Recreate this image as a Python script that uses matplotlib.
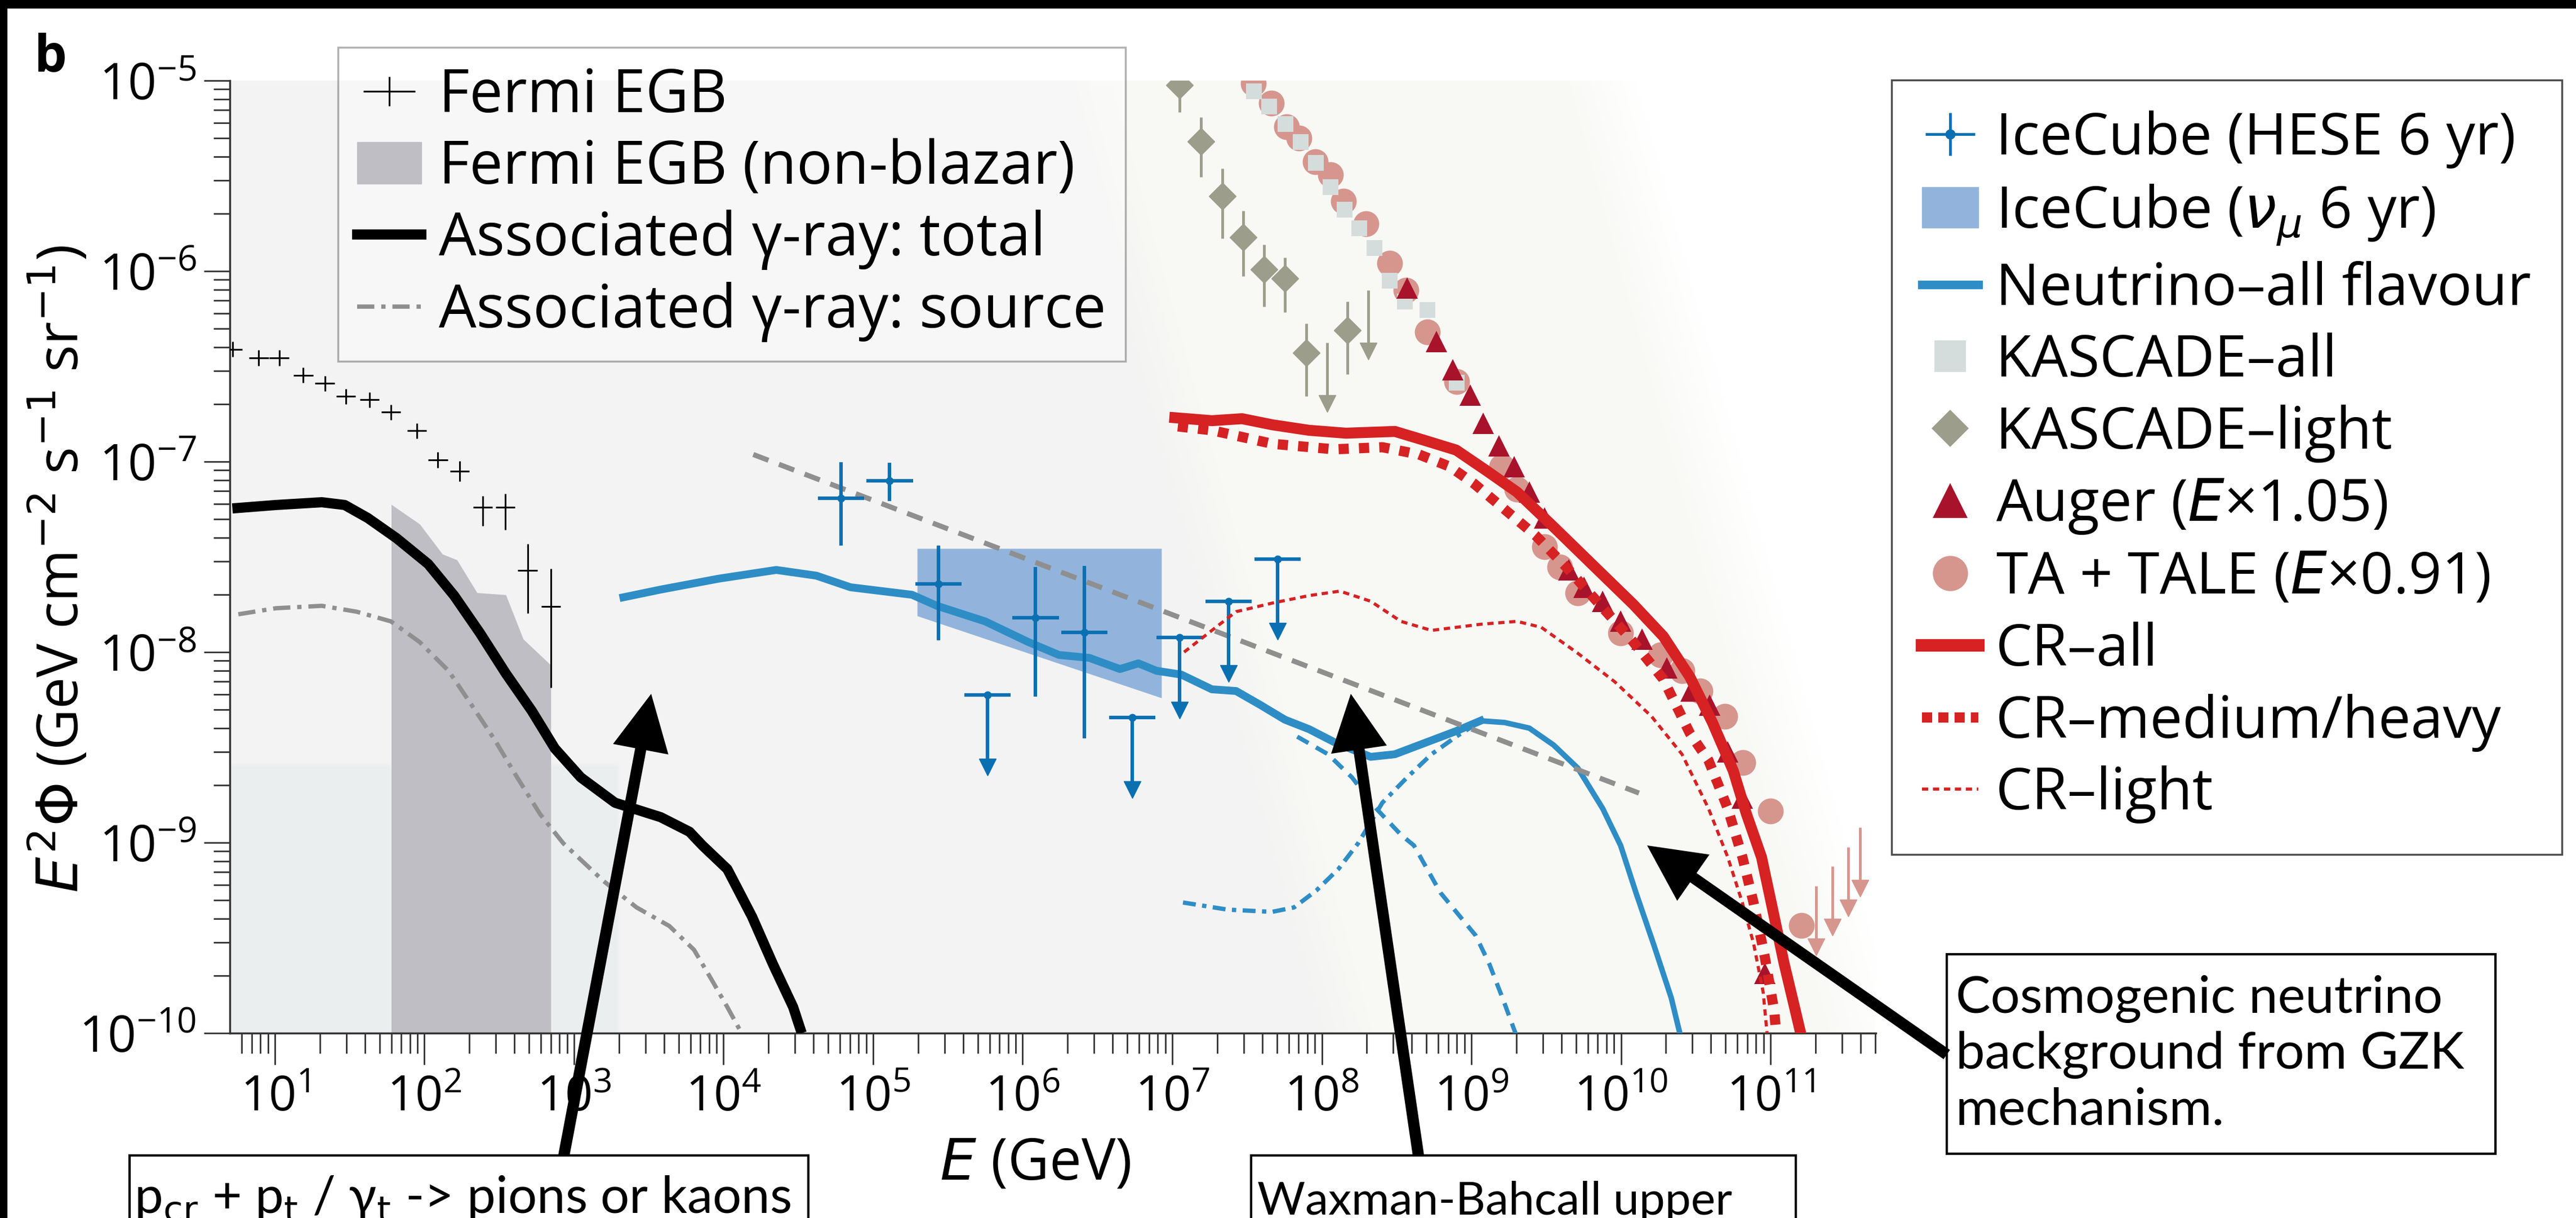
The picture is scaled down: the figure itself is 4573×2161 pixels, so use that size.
import numpy as np
import matplotlib.pyplot as plt
from matplotlib.lines import Line2D
from matplotlib.patches import Patch, Rectangle, FancyArrow
from matplotlib.legend_handler import HandlerTuple
from matplotlib.ticker import FixedLocator, NullFormatter

plt.rcParams['font.family'] = ['Open Sans', 'DejaVu Sans']
plt.rcParams['mathtext.fontset'] = 'dejavusans'

W, H, DPI = 4573, 2161, 100

# ---- Fermi EGB (GeV, GeV cm^-2 s^-1 sr^-1)
fermi_e = [5.2, 7.8, 10.7, 15.5, 21.6, 29.9, 43, 59.7, 89, 123, 172, 245, 347, 490, 700]
fermi_f = [3.89e-7, 3.50e-7, 3.50e-7, 2.84e-7, 2.57e-7, 2.20e-7, 2.11e-7, 1.82e-7,
           1.45e-7, 1.02e-7, 8.9e-8, 5.75e-8, 5.75e-8, 2.69e-8, 1.74e-8]
fermi_lo = [3.55e-7, 3.19e-7, 3.19e-7, 2.59e-7, 2.34e-7, 2.01e-7, 1.92e-7, 1.66e-7,
            1.32e-7, 9.3e-8, 7.9e-8, 4.6e-8, 4.4e-8, 1.6e-8, 6.5e-9]
fermi_hi = [4.26e-7, 3.84e-7, 3.84e-7, 3.11e-7, 2.82e-7, 2.41e-7, 2.31e-7, 1.99e-7,
            1.59e-7, 1.12e-7, 1.01e-7, 6.6e-8, 6.8e-8, 3.7e-8, 2.74e-8]

# Fermi EGB non-blazar band (upper edge)
nb_e = [60, 93, 132, 165, 225, 350, 458, 700]
nb_f = [5.96e-8, 4.70e-8, 3.27e-8, 3.05e-8, 2.05e-8, 2.00e-8, 1.17e-8, 8.55e-9]

# associated gamma rays
gtot_e = [5.2, 10.2, 20.6, 29.3, 41.8, 65.2, 106, 158, 235, 350, 522, 745, 1110,
          1880, 3800, 5920, 7230, 10600, 15500, 21400, 29200, 33300]
gtot_f = [5.68e-8, 5.92e-8, 6.12e-8, 5.92e-8, 5.06e-8, 3.96e-8, 2.90e-8, 1.98e-8,
          1.26e-8, 7.73e-9, 4.92e-9, 3.12e-9, 2.20e-9, 1.62e-9, 1.36e-9, 1.14e-9,
          9.66e-10, 7.26e-10, 4.09e-10, 2.30e-10, 1.37e-10, 1.0e-10]
gsrc_e = [5.7, 10.2, 20.6, 35.2, 59.7, 92.9, 145, 207, 294, 417, 594, 847, 1570,
          2620, 4340, 6340, 8220, 10600, 13200]
gsrc_f = [1.58e-8, 1.70e-8, 1.75e-8, 1.63e-8, 1.45e-8, 1.13e-8, 7.98e-9, 5.27e-9,
          3.48e-9, 2.20e-9, 1.41e-9, 9.93e-10, 6.30e-10, 4.57e-10, 3.65e-10,
          2.74e-10, 1.94e-10, 1.37e-10, 1.0e-10]

# neutrinos, all flavour
nu_e = [2.14e3, 3.80e3, 9.29e3, 2.25e4, 4.17e4, 7.06e4, 1.04e5, 1.82e5, 2.67e5, 5.61e5,
        1.09e6, 1.75e6, 2.79e6, 4.47e6, 5.94e6, 7.85e6, 1.15e7, 1.84e7, 2.67e7, 3.90e7,
        5.66e7, 8.22e7, 1.21e8, 2.12e8, 3.08e8, 4.47e8, 7.91e8, 1.15e9, 1.67e9, 2.44e9,
        3.55e9, 5.15e9, 7.55e9, 9.95e9, 1.26e10, 1.66e10, 2.17e10, 2.49e10]
nu_f = [1.94e-8, 2.13e-8, 2.43e-8, 2.70e-8, 2.52e-8, 2.19e-8, 2.11e-8, 2.00e-8, 1.75e-8,
        1.45e-8, 1.13e-8, 9.66e-9, 9.33e-9, 8.15e-9, 8.73e-9, 7.98e-9, 7.62e-9, 6.38e-9,
        6.25e-9, 5.27e-9, 4.42e-9, 3.94e-9, 3.37e-9, 2.82e-9, 2.91e-9, 3.25e-9, 3.85e-9,
        4.36e-9, 4.27e-9, 3.99e-9, 3.25e-9, 2.46e-9, 1.51e-9, 9.66e-10, 5.46e-10,
        2.90e-10, 1.53e-10, 9.8e-11]
nu_dash_e = [6.85e7, 1.10e8, 1.59e8, 2.31e8, 3.38e8, 4.13e8, 6.21e8, 1.07e9, 1.32e9,
             1.63e9, 1.99e9]
nu_dash_f = [3.60e-9, 2.91e-9, 2.20e-9, 1.51e-9, 1.10e-9, 9.66e-10, 5.46e-10, 3.25e-10,
             2.30e-10, 1.50e-10, 9.8e-11]
nu_dd_e = [1.18e7, 2.34e7, 4.65e7, 6.52e7, 9.20e7, 1.29e8, 1.75e8, 2.54e8, 3.72e8,
           5.41e8, 7.91e8, 1.04e9]
nu_dd_f = [4.85e-10, 4.45e-10, 4.33e-10, 4.57e-10, 5.61e-10, 7.26e-10, 9.93e-10,
           1.62e-9, 2.20e-9, 2.91e-9, 3.60e-9, 4.12e-9]

# IceCube
numu_e = [1.97e5, 8.47e6]
numu_lo = [1.55e-8, 5.75e-9]
numu_hi = [3.50e-8, 3.50e-8]
hese_e = [6.10e4, 1.29e5, 2.74e5, 1.22e6, 2.58e6]
hese_f = [6.43e-8, 7.93e-8, 2.28e-8, 1.52e-8, 1.27e-8]
hese_lo = [3.62e-8, 6.21e-8, 1.15e-8, 5.83e-9, 3.52e-9]
hese_hi = [9.93e-8, 9.86e-8, 3.62e-8, 2.80e-8, 2.84e-8]
hese_ul_e = [5.82e5, 5.41e6, 1.12e7, 2.38e7, 5.06e7]
hese_ul_f = [5.96e-9, 4.54e-9, 1.19e-8, 1.85e-8, 3.08e-8]

# Waxman-Bahcall bound
wb_e = [1.58e4, 1.32e10]
wb_f = [1.09e-7, 1.82e-9]

# cosmic rays, model
cr_e = [1.04e7, 1.84e7, 2.93e7, 4.68e7, 8.22e7, 1.45e8, 3.08e8, 4.91e8, 7.91e8, 1.26e9,
        2.02e9, 3.55e9, 6.24e9, 1.21e10, 1.92e10, 2.89e10, 4.09e10, 5.64e10, 6.89e10,
        8.71e10, 1.04e11, 1.23e11, 1.47e11, 1.60e11]
cr_f = [1.70e-7, 1.64e-7, 1.68e-7, 1.56e-7, 1.46e-7, 1.41e-7, 1.44e-7, 1.29e-7, 1.15e-7,
        8.97e-8, 6.92e-8, 4.54e-8, 2.95e-8, 1.78e-8, 1.21e-8, 7.41e-9, 4.27e-9, 2.38e-9,
        1.42e-9, 8.38e-10, 4.36e-10, 2.34e-10, 1.30e-10, 9.8e-11]
crh_e = [1.09e7, 1.84e7, 4.68e7, 1.21e8, 2.54e8, 4.47e8, 7.19e8, 1.04e9, 1.67e9, 2.69e9,
         4.30e9, 7.55e9, 1.21e10, 1.92e10, 2.89e10, 3.85e10, 5.18e10, 6.49e10, 7.71e10,
         9.16e10, 1.06e11, 1.09e11]
crh_f = [1.53e-7, 1.46e-7, 1.24e-7, 1.16e-7, 1.19e-7, 1.09e-7, 9.40e-8, 7.67e-8, 5.61e-8,
         4.09e-8, 2.80e-8, 1.71e-8, 1.13e-8, 7.21e-9, 3.75e-9, 2.70e-9, 1.51e-9, 8.38e-10,
         4.82e-10, 2.51e-10, 1.30e-10, 1.0e-10]
crl_e = [1.20e7, 1.84e7, 2.67e7, 4.68e7, 8.22e7, 1.32e8, 2.12e8, 3.38e8, 5.41e8, 1.15e9,
         2.02e9, 2.93e9, 5.15e9, 9.12e9, 1.60e10, 2.56e10, 3.85e10, 5.18e10, 6.49e10,
         7.71e10, 8.93e10, 9.48e10]
crl_f = [1.0e-8, 1.30e-8, 1.63e-8, 1.81e-8, 1.98e-8, 2.09e-8, 1.85e-8, 1.45e-8, 1.30e-8,
         1.40e-8, 1.45e-8, 1.35e-8, 9.86e-9, 6.97e-9, 4.60e-9, 2.91e-9, 1.51e-9, 8.38e-10,
         4.82e-10, 2.95e-10, 1.64e-10, 1.0e-10]

# cosmic rays, measured
kl_e = [1.12e7, 1.56e7, 2.16e7, 2.99e7, 4.11e7, 5.66e7, 7.87e7, 1.48e8]
kl_f = [9.5e-6, 4.79e-6, 2.47e-6, 1.51e-6, 1.02e-6, 9.16e-7, 3.72e-7, 4.89e-7]
kl_lo = [6.82e-6, 3.12e-6, 1.48e-6, 9.40e-7, 6.52e-7, 6.08e-7, 2.20e-7, 2.88e-7]
kl_hi = [1.26e-5, 6.43e-6, 3.45e-6, 2.07e-6, 1.38e-6, 1.18e-6, 5.31e-7, 6.92e-7]
kl_ul_e = [1.09e8, 2.05e8]
kl_ul_f = [4.21e-7, 7.93e-7]
ka_e = [3.52e7, 4.45e7, 5.71e7, 7.23e7, 9.12e7, 1.14e8, 1.42e8, 1.78e8, 2.25e8, 2.84e8,
        3.60e8, 5.08e8, 7.98e8]
ka_f = [8.79e-6, 7.31e-6, 5.92e-6, 4.76e-6, 3.70e-6, 2.76e-6, 2.10e-6, 1.68e-6, 1.32e-6,
        8.91e-7, 6.92e-7, 6.25e-7, 2.59e-7]
ta_e = [3.48e7, 4.60e7, 5.82e7, 7.05e7, 9.06e7, 1.14e8, 1.40e8, 1.98e8, 2.84e8, 3.66e8,
        5.08e8, 7.98e8, 1.60e9, 2.02e9, 3.09e9, 3.90e9, 5.15e9, 9.95e9, 1.85e10, 2.56e10,
        3.38e10, 4.95e10, 6.53e10, 1.0e11, 1.61e11]
ta_f = [9.66e-6, 7.62e-6, 5.71e-6, 4.99e-6, 3.75e-6, 3.21e-6, 2.33e-6, 1.77e-6, 1.10e-6,
        7.93e-7, 4.79e-7, 2.63e-7, 9.40e-8, 7.16e-8, 3.57e-8, 2.80e-8, 2.05e-8, 1.26e-8,
        9.66e-9, 7.98e-9, 6.25e-9, 4.60e-9, 2.63e-9, 1.46e-9, 3.67e-10]
ta_ul_e = [2.02e11, 2.59e11, 3.31e11, 3.98e11]
ta_ul_f = [5.92e-10, 7.52e-10, 9.46e-10, 1.20e-9]
au_e = [3.72e8, 5.85e8, 7.52e8, 9.82e8, 1.20e9, 1.53e9, 1.93e9, 2.44e9, 3.09e9, 4.49e9,
        5.66e9, 7.55e9, 9.95e9, 1.38e10, 2.03e10, 2.94e10, 3.92e10, 5.18e10, 6.49e10,
        9.16e10]
au_f = [8.15e-7, 4.27e-7, 3.03e-7, 2.23e-7, 1.59e-7, 1.21e-7, 9.40e-8, 6.92e-8, 5.06e-8,
        2.70e-8, 2.19e-8, 1.85e-8, 1.45e-8, 1.17e-8, 8.26e-9, 6.25e-9, 5.27e-9, 2.99e-9,
        1.71e-9, 2.06e-10]

# axis decades
x_decades = [10.0**k for k in range(1, 12)]
y_decades = [10.0**k for k in range(-10, -4)]

# colours
c_blue_pt = '#0b70b2'
c_blue = '#2f8dc6'
c_band = '#92b4dc'
c_red = '#d62222'
c_auger = '#a8132b'
c_ta = '#d6968e'
c_ka = '#d5dcdc'
c_kl = '#9c9d8a'
c_gray = '#8f8f8f'


def px(x, y):
    return x / DPI, (H - y) / DPI


fig = plt.figure(figsize=(W / DPI, H / DPI), dpi=DPI)
rect = [408 / W, 1 - 1833 / H, (3330 - 408) / W, (1833 - 143) / H]

# soft background tint behind the data
bg = fig.add_axes(rect, zorder=0)
bg.axis('off')
gx = np.linspace(0.699, 11.704, 440)
gy = np.linspace(-10, -5, 220)
X, Y = np.meshgrid(gx, gy)
s = X + 0.35 * (Y + 5)
t1 = np.clip((s - 6.2) / 0.4, 0, 1)[..., None]
t2 = np.clip((s - 9.6) / 0.5, 0, 1)[..., None]
grey = np.array([0.953, 0.953, 0.953])
pale = np.array([0.973, 0.973, 0.962])
rgb = grey * (1 - t1) + pale * t1
rgb = rgb * (1 - t2) + 1.0 * t2
tint = ((X < 3.3) & (Y < -8.6))[..., None]
rgb = np.where(tint, np.array([0.925, 0.937, 0.937]), rgb)
bg.imshow(rgb, extent=[0, 1, 0, 1], origin='lower', aspect='auto', interpolation='bilinear')
bg.set_xlim(0, 1)
bg.set_ylim(0, 1)

ax = fig.add_axes(rect, zorder=1)
ax.patch.set_alpha(0)
ax.set_xscale('log')
ax.set_yscale('log')

# Fermi
ax.fill_between(nb_e, 1e-10, nb_f, color='#bfbec4', lw=0, zorder=2)
fe = np.array(fermi_e)
ff = np.array(fermi_f)
ax.errorbar(fe, ff, xerr=[fe - fe / 10**0.065, fe * 10**0.065 - fe],
            yerr=[ff - np.array(fermi_lo), np.array(fermi_hi) - ff],
            fmt='none', ecolor='k', elinewidth=2.2, zorder=5)
ax.plot(gsrc_e, gsrc_f, color=c_gray, lw=5.5, dashes=(4, 1.6, 1, 1.6), zorder=3)
ax.plot(gtot_e, gtot_f, color='k', lw=13, solid_capstyle='butt', zorder=4)

# neutrinos
ax.fill_between(numu_e, numu_lo, numu_hi, color=c_band, lw=0, zorder=2)
ax.plot(nu_dash_e, nu_dash_f, color=c_blue, lw=5.5, dashes=(3, 2), zorder=3)
ax.plot(nu_dd_e, nu_dd_f, color=c_blue, lw=5.5, dashes=(3, 1.5, 1, 1.5), zorder=3)
ax.plot(nu_e[:28], nu_f[:28], color=c_blue, lw=10, zorder=4)
ax.plot(nu_e[27:], nu_f[27:], color=c_blue, lw=7, zorder=4)
ax.plot(wb_e, wb_f, color=c_gray, lw=6.5, dashes=(3.2, 2.2), zorder=4)

he = np.array(hese_e)
hf = np.array(hese_f)
ax.errorbar(he, hf, xerr=[he - he / 10**0.155, he * 10**0.155 - he],
            yerr=[hf - np.array(hese_lo), np.array(hese_hi) - hf],
            fmt='o', ms=9, color=c_blue_pt, elinewidth=4.5, zorder=6)
ue = np.array(hese_ul_e)
uf = np.array(hese_ul_f)
ax.errorbar(ue, uf, xerr=[ue - ue / 10**0.155, ue * 10**0.155 - ue],
            fmt='o', ms=9, color=c_blue_pt, elinewidth=4.5, zorder=6)
ax.vlines(ue, uf / 10**0.36, uf, color=c_blue_pt, lw=4.5, zorder=6)
ax.plot(ue, uf / 10**0.38, 'v', ms=22, color=c_blue_pt, zorder=6)

# cosmic-ray data
ax.errorbar(kl_e, kl_f, yerr=[np.array(kl_f) - kl_lo, np.array(kl_hi) - kl_f],
            fmt='D', ms=24, color=c_kl, elinewidth=3.5, zorder=5)
ax.vlines(kl_ul_e, np.array(kl_ul_f) / 10**0.3, kl_ul_f, color=c_kl, lw=3.5, zorder=5)
ax.plot(kl_ul_e, np.array(kl_ul_f) / 10**0.32, 'v', ms=22, color=c_kl, zorder=5)
ax.plot(ta_e, ta_f, 'o', ms=33, color=c_ta, mew=0, zorder=5)
ax.vlines(ta_ul_e, np.array(ta_ul_f) / 10**0.3, ta_ul_f, color=c_ta, lw=3.5, zorder=5)
ax.plot(ta_ul_e, np.array(ta_ul_f) / 10**0.32, 'v', ms=22, color=c_ta, zorder=5)
ax.plot(ka_e, ka_f, 's', ms=20, color=c_ka, mew=0, zorder=6)
ax.plot(au_e, au_f, '^', ms=27, color=c_auger, mew=0, zorder=6)

# cosmic-ray model
ax.plot(crl_e, crl_f, color=c_red, lw=4, dashes=(2, 1.5), zorder=7)
ax.plot(crh_e, crh_f, color=c_red, lw=13, dashes=(1, 1), zorder=7)
ax.plot(cr_e, cr_f, color=c_red, lw=14, zorder=7)

ax.set_xlim(10**0.699, 10**11.704)
ax.set_ylim(1e-10, 1e-5)
for sp in ['top', 'right']:
    ax.spines[sp].set_visible(False)
for sp in ['left', 'bottom']:
    ax.spines[sp].set_linewidth(2.5)
    ax.spines[sp].set_color('#333333')

# only decades inside the view get ticks and labels
xminor = [m * d for d in [1.0] + x_decades for m in range(2, 10)
          if 10**0.699 <= m * d <= 10**11.704]
yminor = [m * d for d in y_decades[:-1] for m in range(2, 10)]
ax.xaxis.set_major_locator(FixedLocator(x_decades))
ax.xaxis.set_minor_locator(FixedLocator(xminor))
ax.yaxis.set_major_locator(FixedLocator(y_decades))
ax.yaxis.set_minor_locator(FixedLocator(yminor))
ax.xaxis.set_minor_formatter(NullFormatter())
ax.yaxis.set_minor_formatter(NullFormatter())
ax.tick_params(axis='x', which='major', length=40, width=2, pad=12, labelsize=62, color='#333333')
ax.tick_params(axis='x', which='minor', length=26, width=2, color='#333333')
ax.tick_params(axis='y', which='major', length=33, width=2, pad=10, labelsize=64, color='#333333')
ax.tick_params(axis='y', which='minor', length=21, width=2, color='#333333')

xlab = ax.set_xlabel('$E$ (GeV)', fontsize=64, va='center')
ax.xaxis.set_label_coords((1838 - 408) / 2922, -0.138)
ylab = ax.set_ylabel(r'$E^2\Phi$ (GeV cm$^{-2}$ s$^{-1}$ sr$^{-1}$)', fontsize=60,
                     va='center')
ax.yaxis.set_label_coords(-0.103, (1833 - 1010) / 1690)

# legends
hmap = {tuple: HandlerTuple(ndivide=1, pad=0)}
leg_kw = dict(handletextpad=0.3, borderaxespad=0, fancybox=False, loc='upper left',
              bbox_transform=fig.transFigure, handler_map=hmap)
h_fermi = (Line2D([], [], color='k', marker='_', ms=66, mew=2.2, ls='none'),
           Line2D([], [], color='k', marker='|', ms=37, mew=2.2, ls='none'))
h_left = [h_fermi, Patch(color='#bfbec4'), Line2D([], [], color='k', lw=13),
          Line2D([], [], color=c_gray, lw=5.5, dashes=(4, 1.6, 1, 1.6))]
l_left = ['Fermi EGB', 'Fermi EGB (non-blazar)', 'Associated γ-ray: total',
          'Associated γ-ray: source']
leg1 = ax.legend(h_left, l_left, bbox_to_anchor=(600 / W, 1 - 84 / H), borderpad=0.32,
                 fontsize=76, handlelength=1.08, labelspacing=0.2, **leg_kw)
leg1.get_frame().set_edgecolor('#222222')
leg1.get_frame().set_linewidth(2.5)
leg1.get_frame().set_facecolor('white')
leg1.get_frame().set_alpha(0.35)
ax.add_artist(leg1)

h_hese = (Line2D([], [], color=c_blue_pt, marker='_', ms=63, mew=3.5, ls='none'),
          Line2D([], [], color=c_blue_pt, marker='|', ms=55, mew=3.5, ls='none'),
          Line2D([], [], color=c_blue_pt, marker='o', ms=12, ls='none'))
h_right = [h_hese, Patch(color=c_band), Line2D([], [], color=c_blue, lw=11),
           Line2D([], [], color=c_ka, marker='s', ms=40, ls='none', mew=0),
           Line2D([], [], color=c_kl, marker='D', ms=34, ls='none', mew=0),
           Line2D([], [], color=c_auger, marker='^', ms=45, ls='none', mew=0),
           Line2D([], [], color=c_ta, marker='o', ms=45, ls='none', mew=0),
           Line2D([], [], color=c_red, lw=16),
           Line2D([], [], color=c_red, lw=13, dashes=(1, 0.6)),
           Line2D([], [], color=c_red, lw=4, dashes=(2, 1.5))]
l_right = ['IceCube (HESE 6 yr)', r'IceCube ($\nu_\mu$ 6 yr)', 'Neutrino–all flavour',
           'KASCADE–all', 'KASCADE–light', 'Auger ($E$×1.05)', 'TA + TALE ($E$×0.91)',
           'CR–all', 'CR–medium/heavy', 'CR–light']
leg2 = ax.legend(h_right, l_right, bbox_to_anchor=(3358 / W, 1 - 142 / H), borderpad=0.53,
                 fontsize=74, handlelength=0.97, labelspacing=0.24, **leg_kw)
leg2.get_frame().set_edgecolor('#222222')
leg2.get_frame().set_linewidth(2.5)
leg2.get_frame().set_facecolor('white')

# panel letter
fig.text(61 / W, 1 - 128 / H, 'b', fontsize=66, weight='bold', va='baseline')

# annotation boxes and arrows
box_font = dict(fontsize=63, family=['Lato', 'DejaVu Sans'], color='black')
for x0, y0, x1, y1 in [(230, 2050, 1435, 2300), (2221, 2050, 3188, 2300),
                       (3456, 1693, 4430, 2047)]:
    xa, ya = px(x0, y1)
    fig.add_artist(Rectangle((xa, ya), (x1 - x0) / DPI, (y1 - y0) / DPI,
                             transform=fig.dpi_scale_trans, fill=False, lw=3,
                             ec='k', zorder=10))
notes = [
    (238, 2152, r'p$_{\rm cr}$ + p$_{\rm t}$ / γ$_{\rm t}$ -> pions or kaons', 1166),
    (2232, 2155, 'Waxman-Bahcall upper', 844),
    (3472, 1797, 'Cosmogenic neutrino', 864),
    (3472, 1896, 'background from GZK', None),
    (3472, 1995, 'mechanism.', None),
]
fig.canvas.draw()
rend = fig.canvas.get_renderer()
size = 63
for x, y, txt, width in notes:
    t = fig.text(x / W, 1 - y / H, txt, va='baseline', **box_font)
    if width is not None:
        size = 63 * width / t.get_window_extent(rend).width
    t.set_fontsize(size)

# fit axis labels to their printed extent
xlab.set_fontsize(64 * 340 / xlab.get_window_extent(rend).width)
ylab.set_fontsize(60 * 1150 / ylab.get_window_extent(rend).height)

for (xb, yb), (xt, yt) in [((1001, 2050), (1156, 1231)), ((2518, 2050), (2398, 1231)),
                           ((3456, 1871), (2924, 1500))]:
    x0, y0 = px(xb, yb)
    x1, y1 = px(xt, yt)
    fig.add_artist(FancyArrow(x0, y0, x1 - x0, y1 - y0, width=0.2, head_width=1.0,
                              head_length=1.0, length_includes_head=True, color='k',
                              lw=0, transform=fig.dpi_scale_trans, zorder=11))

# black page edges
fig.add_artist(Rectangle((0, 1 - 14 / H), 1, 14 / H, transform=fig.transFigure,
                         color='k', zorder=20))
fig.add_artist(Rectangle((0, 0), 12 / W, 1, transform=fig.transFigure, color='k', zorder=20))

fig.savefig('out.png', dpi=DPI)
